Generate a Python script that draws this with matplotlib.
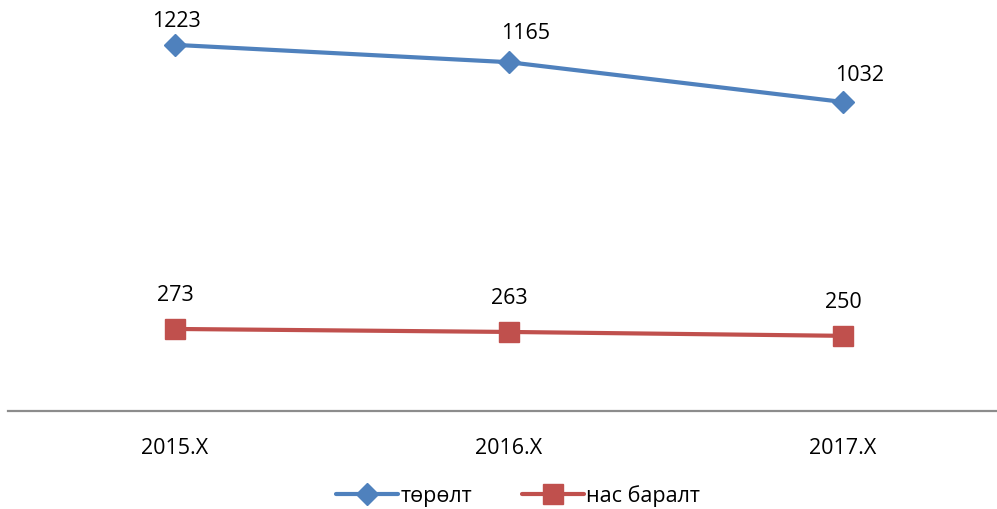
import matplotlib
matplotlib.use("Agg")
import matplotlib.pyplot as plt

categories = ["2015.X", "2016.X", "2017.X"]
births = [1223, 1165, 1032]
deaths = [273, 263, 250]
series_names = ["төрөлт", "нас баралт"]

plt.rcParams['font.family'] = ['Open Sans', 'DejaVu Sans']

W, H = 997, 509
fig = plt.figure(figsize=(W/100, H/100), dpi=100)
left = 8 / W
bottom = 1 - 410.6 / H
ax = fig.add_axes([left, bottom, 1002 / W, 1 - bottom])

x = list(range(len(categories)))
blue = "#4F81BD"
red = "#C0504D"
ax.plot(x, births, color=blue, lw=3, marker="D", markersize=11, label=series_names[0], solid_capstyle="round")
ax.plot(x, deaths, color=red, lw=3, marker="s", markersize=14, label=series_names[1], solid_capstyle="round")

blue_off = [(1, 17), (12, 21), (12, 19)]
red_off = [(0, 24), (0, 24), (0, 24)]
fs = 15.5
for xi, v, off in zip(x, births, blue_off):
    ax.annotate(str(v), (xi, v), xytext=off, textcoords="offset points", ha="center", va="center", fontsize=fs)
for xi, v, off in zip(x, deaths, red_off):
    ax.annotate(str(v), (xi, v), xytext=off, textcoords="offset points", ha="center", va="center", fontsize=fs)

ax.set_xlim(-0.5, 2.5)
ax.set_ylim(0, 1373)
ax.set_xticks(x)
ax.set_xticklabels(categories, fontsize=fs)
ax.tick_params(axis="x", length=0, pad=20)
ax.set_yticks([])
for s in ["top", "right", "left"]:
    ax.spines[s].set_visible(False)
ax.spines["bottom"].set_color("#8C8C8C")
ax.spines["bottom"].set_linewidth(1.6)

leg = fig.legend(loc="center", bbox_to_anchor=(518 / W, 1 - 496 / H), ncol=2, frameon=False,
                 fontsize=fs, handlelength=2.9, columnspacing=2.3, handletextpad=0.1)
fig.savefig("out.png", dpi=100)
